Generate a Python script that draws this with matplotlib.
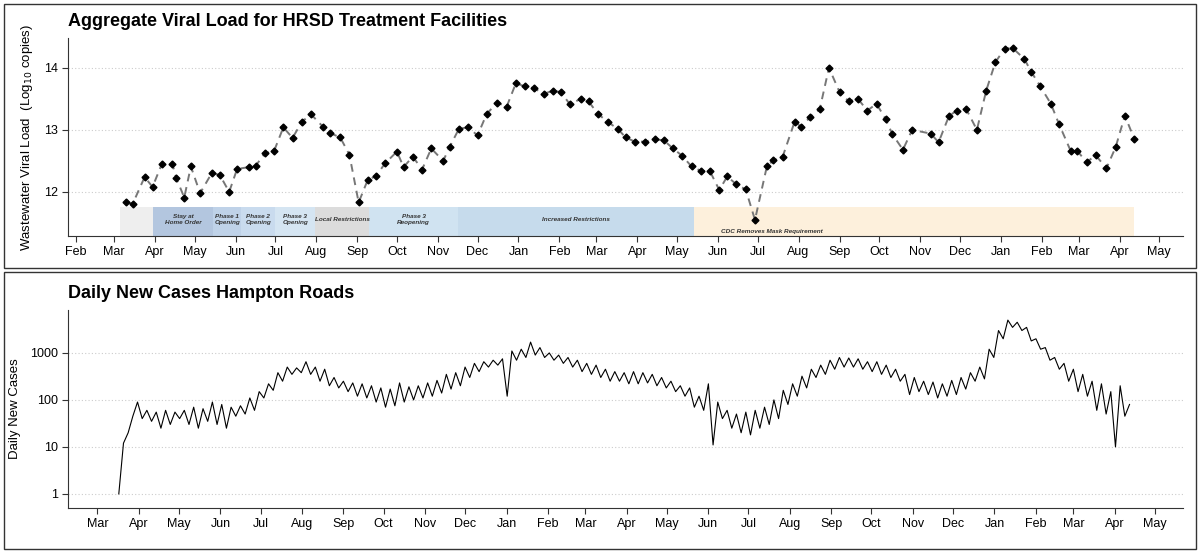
import matplotlib
matplotlib.use("Agg")
import matplotlib.pyplot as plt
import matplotlib.dates as mdates
import numpy as np
import pandas as pd

plt.rcParams["font.family"] = ["Liberation Sans", "DejaVu Sans"]

# ---- viral load (days since 2020-02-01, log10 copies)
viral_days = [38, 43, 52, 58, 65, 73, 76, 82, 87, 94, 103, 109, 116, 122, 131, 136, 143, 150, 157, 164,
              171, 178, 187, 192, 200, 207, 214, 221, 227, 234, 243, 248, 255, 262, 269, 278, 283, 290, 297, 304,
              311, 319, 326, 333, 340, 347, 354, 361, 367, 374, 382, 388, 395, 403, 410, 416, 423, 431, 438, 445,
              452, 459,
              466, 473, 480, 487, 493, 500, 507, 514, 523, 528, 535, 544, 549, 556, 563, 570, 578, 585, 592, 599,
              606, 613, 618, 626, 633, 647, 653, 661, 667, 674, 682, 689, 696, 703, 709, 718, 723, 730, 738, 744,
              753, 758, 765, 772, 780, 787, 794, 801]
viral_load = [11.83, 11.81, 12.24, 12.08, 12.45, 12.45, 12.22, 11.91, 12.41, 11.98, 12.31, 12.27, 12.00, 12.37,
              12.40, 12.42, 12.62, 12.66, 13.04, 12.87, 13.13, 13.25, 13.05, 12.95, 12.88, 12.60, 11.83, 12.20,
              12.25, 12.46, 12.65, 12.40, 12.57, 12.36, 12.70, 12.50, 12.73, 13.02, 13.04, 12.91, 13.26, 13.44,
              13.37, 13.75, 13.70, 13.67, 13.58, 13.63, 13.61, 13.41, 13.50, 13.46, 13.26, 13.12, 13.02, 12.88,
              12.81, 12.81, 12.85, 12.83, 12.70, 12.58,
              12.41, 12.34, 12.33, 12.03, 12.25, 12.12, 12.04, 11.55, 12.41, 12.51, 12.57, 13.13, 13.05, 13.21,
              13.33, 14.00, 13.61, 13.46, 13.50, 13.31, 13.42, 13.17, 12.93, 12.68, 13.00, 12.94, 12.80, 13.23,
              13.31, 13.33, 13.00, 13.63, 14.09, 14.31, 14.32, 14.14, 13.94, 13.70, 13.42, 13.10, 12.66, 12.66,
              12.48, 12.59, 12.38, 12.72, 13.23, 12.86]

# ---- restriction periods
band_start = ["2020-03-05", "2020-03-30", "2020-05-15", "2020-06-05", "2020-07-01", "2020-07-31",
              "2020-09-10", "2020-11-16", "2021-05-14"]
band_end = ["2020-03-30", "2020-05-15", "2020-06-05", "2020-07-01", "2020-07-31", "2020-09-10",
            "2020-11-16", "2021-05-14", "2022-04-12"]
band_label = ["", "Stay at\nHome Order", "Phase 1\nOpening", "Phase 2\nOpening", "Phase 3\nOpening",
              "Local Restrictions", "Phase 3\nReopening", "Increased Restrictions", "CDC Removes Mask Requirement"]
band_color = ["#eeeeee", "#b3c6df", "#bfd2e8", "#c9dbee", "#d5e5f2", "#dcdcdc", "#d0e3f1", "#c6dbec", "#fdf0dc"]

# ---- daily new cases, weekly high / low readings (week starts from 2020-03-17)
case_hi = [1, 20, 90, 60, 55, 60, 55, 60, 70, 65, 90, 80, 70, 75, 110, 150, 220, 380, 500, 480,
           650, 500, 450, 300, 250, 230, 220, 200, 180, 170, 230, 190, 200, 230, 260, 350, 380, 500, 600, 650,
           700, 750,
           1100, 1200, 1700, 1300, 1000, 900, 800, 700, 600, 550, 450, 400, 380, 400, 380, 350, 300, 250,
           200, 180, 120, 220, 90, 60, 50, 55, 60, 70, 100, 160, 220, 320, 450, 550, 700, 800, 780, 750,
           650, 650, 550, 450, 350, 300, 250, 240, 220, 260, 300, 380, 500, 1200,
           3000, 5000, 4500, 3500, 2000, 1300, 800, 600, 450, 350, 250, 220, 150, 200]
case_lo = [12, 45, 40, 35, 25, 30, 40, 30, 25, 35, 30, 25, 45, 50, 60, 110, 160, 250, 350, 380,
           350, 250, 200, 180, 150, 120, 110, 90, 70, 75, 90, 100, 110, 120, 140, 170, 200, 300, 400, 500,
           550, 120,
           700, 800, 900, 800, 700, 600, 500, 400, 350, 300, 250, 250, 220, 220, 230, 200, 180, 150,
           120, 70, 60, 11, 40, 25, 20, 18, 25, 30, 40, 80, 120, 180, 300, 350, 450, 500, 500, 450,
           400, 350, 300, 250, 130, 150, 130, 110, 120, 130, 170, 250, 280, 800,
           2000, 3500, 3000, 1800, 1200, 700, 450, 250, 150, 120, 60, 50, 10, 45]
case_last = 80

vdates = pd.Timestamp("2020-02-01") + pd.to_timedelta(viral_days, unit="D")
weeks = pd.date_range("2020-03-17", periods=len(case_hi), freq="7D")
cdates = []
cvals = []
for w, h, l in zip(weeks, case_hi, case_lo):
    cdates += [w, w + pd.Timedelta(days=3.5)]
    cvals += [h, l]
cdates.append(weeks[-1] + pd.Timedelta(days=7))
cvals.append(case_last)

fig = plt.figure(figsize=(12, 5.55), dpi=100)
W, H = 1200, 555

def fr(x0, y0, x1, y1):
    return [x0 / W, 1 - y1 / H, (x1 - x0) / W, (y1 - y0) / H]

# panel frames
for y0, y1 in [(4, 268), (272, 549)]:
    fig.add_artist(plt.Rectangle((4 / W, 1 - y1 / H), 1192 / W, (y1 - y0) / H, transform=fig.transFigure,
                                 fill=False, edgecolor="#333333", linewidth=1.0))

month_fmt = mdates.DateFormatter("%b")

# ---------- top
ax = fig.add_axes(fr(68, 38, 1183, 236))
for s, e, lab, c in zip(band_start, band_end, band_label, band_color):
    s, e = pd.Timestamp(s), pd.Timestamp(e)
    ax.fill_between([s, e], 11.29, 11.76, color=c, linewidth=0)
    if not lab:
        continue
    if "CDC" in lab:
        ax.text(s + pd.Timedelta(days=20), 11.36, lab, ha="left", va="center", fontsize=4.6,
                style="italic", fontweight="bold", color="#333333")
    else:
        ax.text(s + (e - s) / 2, 11.55, lab, ha="center", va="center", fontsize=4.6, style="italic",
                fontweight="bold", color="#333333", linespacing=1.3)
ax.plot(vdates, viral_load, linestyle=(0, (4, 3)), color="#777777", linewidth=1.4, zorder=2)
ax.plot(vdates, viral_load, linestyle="none", marker="D", markersize=3.5, color="black", zorder=3)
ax.set_xlim(pd.Timestamp("2020-01-26"), pd.Timestamp("2022-05-19"))
ax.set_ylim(11.29, 14.48)
ax.set_yticks([12, 13, 14])
ax.yaxis.grid(True, linestyle=(0, (1, 2)), color="#cccccc", linewidth=0.8)
ax.set_axisbelow(True)
ax.xaxis.set_major_locator(mdates.MonthLocator())
ax.xaxis.set_major_formatter(month_fmt)
ax.set_ylabel("Wastewater Viral Load  (Log$_{10}$ copies)", fontsize=9.5, labelpad=6)
ax.set_title("Aggregate Viral Load for HRSD Treatment Facilities", loc="left", fontsize=13,
             fontweight="bold", pad=9)

# ---------- bottom
bx = fig.add_axes(fr(68, 310, 1183, 508))
bx.plot(cdates, cvals, color="black", linewidth=0.8)
bx.set_yscale("log")
bx.set_ylim(0.5, 8200)
bx.set_yticks([1, 10, 100, 1000])
bx.set_yticklabels(["1", "10", "100", "1000"])
bx.yaxis.set_minor_locator(matplotlib.ticker.NullLocator())
bx.yaxis.grid(True, linestyle=(0, (1, 2)), color="#cccccc", linewidth=0.8)
bx.set_axisbelow(True)
bx.set_xlim(pd.Timestamp("2020-02-08"), pd.Timestamp("2022-05-22"))
bx.xaxis.set_major_locator(mdates.MonthLocator())
bx.xaxis.set_major_formatter(month_fmt)
bx.set_ylabel("Daily New Cases", fontsize=9.5, labelpad=6)
bx.set_title("Daily New Cases Hampton Roads", loc="left", fontsize=13, fontweight="bold", pad=9)

for a in (ax, bx):
    for s in ("top", "right"):
        a.spines[s].set_visible(False)
    a.spines["left"].set_color("#333333")
    a.spines["bottom"].set_color("#333333")
    a.tick_params(labelsize=9, color="#333333", length=4)

fig.savefig("out.png", dpi=100)
